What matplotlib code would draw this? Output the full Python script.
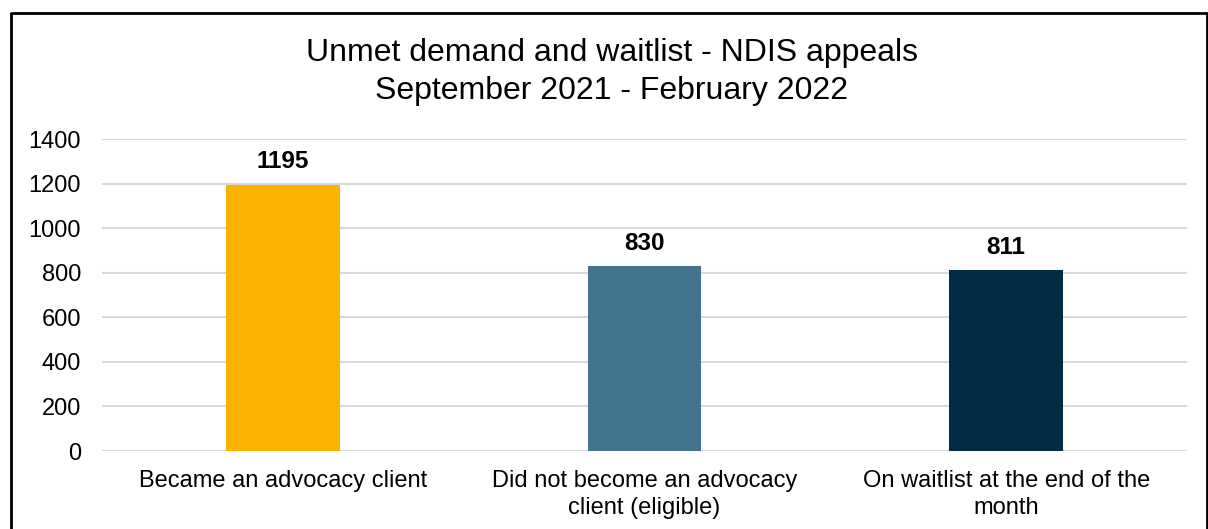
import matplotlib.pyplot as plt
from matplotlib.lines import Line2D

plt.rcParams['font.family'] = ['Liberation Sans', 'DejaVu Sans']

categories = ['Became an advocacy client',
              'Did not become an advocacy\nclient (eligible)',
              'On waitlist at the end of the\nmonth']
values = [1195, 830, 811]
colors = ['#FAB400', '#43748F', '#022C44']
yticks = [0, 200, 400, 600, 800, 1000, 1200, 1400]

fig = plt.figure(figsize=(12.08, 5.29), dpi=100)
ax = fig.add_axes([0.0844, 0.1474, 0.8982, 0.5896])

x = range(len(categories))
bars = ax.bar(x, values, width=0.315, color=colors, zorder=3)

for rect, v in zip(bars, values):
    ax.annotate(str(v), (rect.get_x() + rect.get_width() / 2, v),
                xytext=(0, 16.5), textcoords='offset points',
                ha='center', va='center', fontsize=17.5, fontweight='bold')

ax.set_xlim(-0.5, 2.5)
ax.set_ylim(0, 1400)
ax.set_yticks(yticks)
ax.set_xticks(list(x))
ax.set_xticklabels(categories, fontsize=17, linespacing=1.25)
ax.tick_params(axis='y', labelsize=17, length=0, pad=15)
ax.tick_params(axis='x', length=0, pad=14)
ax.grid(axis='y', color='#D9D9D9', linewidth=1.5, zorder=0)
for s in ax.spines.values():
    s.set_visible(False)

fig.text(0.5066, 0.8640, 'Unmet demand and waitlist - NDIS appeals\nSeptember 2021 - February 2022',
         ha='center', va='center', fontsize=23, linespacing=1.33)

# chart border (left, top, right)
bx0, bx1, by1 = 10.5 / 1208, 1206.5 / 1208, 1 - 12.5 / 529
fig.add_artist(Line2D([bx0, bx0, bx1, bx1], [0, by1, by1, 0],
                      transform=fig.transFigure, color='black', linewidth=2))

fig.savefig('out.png', dpi=100)
